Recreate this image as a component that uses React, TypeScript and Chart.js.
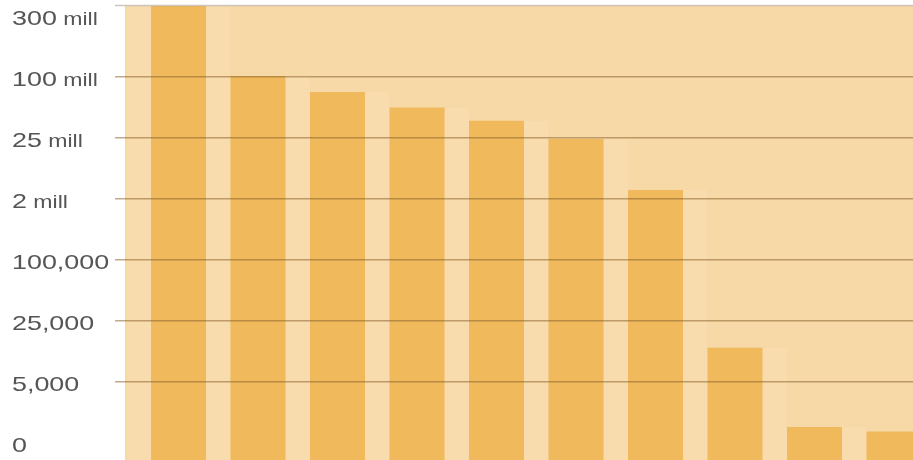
import { useEffect, useRef } from "react";
import { Chart, registerables } from "chart.js";

Chart.register(...registerables);

// Categories (no names are shown in the picture; ranked bars)
const categories = ["#1", "#2", "#3", "#4", "#5", "#6", "#7", "#8", "#9", "#10"];

// Estimated values
const values = [360000000, 102000000, 71000000, 50000000, 37000000, 24000000, 2900000, 12300, 1300, 950];

// Tick values (equally spaced on the axis) and their labels
const tickValues = [0, 5000, 25000, 100000, 2000000, 25000000, 100000000, 300000000];
const tickLabels = ["0", "5,000", "25,000", "100,000", "2 mill", "25 mill", "100 mill", "300 mill"];

const Y_MIN = -0.279;
const Y_MAX = 7.164;
const X_MIN = -0.673;
const X_MAX = 9.239;

const PLOT_BG = "#f6d9a6";
const BAR_COLOR = "#efb95c";
const HALO_COLOR = "#f8dcad";
const GRID_COLOR = "rgba(140, 100, 45, 0.55)";
const TEXT_COLOR = "#555555";

// Piecewise axis transform: equal spacing between the listed tick values
function toAxis(v: number): number {
  if (v <= tickValues[1]) return v / tickValues[1];
  for (let i = 1; i < tickValues.length - 1; i++) {
    const a = tickValues[i];
    const b = tickValues[i + 1];
    if (v < b) return i + Math.log(v / a) / Math.log(b / a);
  }
  const n = tickValues.length - 1;
  const a = tickValues[n - 1];
  const b = tickValues[n];
  return n + Math.log(v / b) / Math.log(b / a);
}

const decorPlugin = {
  id: "decor",
  beforeDraw(chart: any) {
    const { ctx, chartArea } = chart;
    ctx.save();
    ctx.fillStyle = PLOT_BG;
    ctx.fillRect(chartArea.left, chartArea.top, chartArea.right - chartArea.left, chartArea.bottom - chartArea.top);
    ctx.restore();
  },
  afterDraw(chart: any) {
    const { ctx, chartArea } = chart;
    const yScale = chart.scales.y;
    ctx.save();
    // top rule
    ctx.strokeStyle = "rgba(165, 150, 135, 0.55)";
    ctx.lineWidth = 1.5;
    ctx.beginPath();
    ctx.moveTo(chartArea.left - 10, chartArea.top - 0.5);
    ctx.lineTo(chartArea.right, chartArea.top - 0.5);
    ctx.stroke();

    // tick labels
    ctx.fillStyle = TEXT_COLOR;
    ctx.textBaseline = "alphabetic";
    ctx.textAlign = "left";
    const fam = '"Liberation Sans", Arial, sans-serif';
    tickLabels.forEach((lab, i) => {
      const py = yScale.getPixelForValue(i) + 9;
      const parts = lab.split(" ");
      ctx.save();
      ctx.translate(12, py);
      ctx.scale(1.28, 1);
      ctx.font = "21px " + fam;
      ctx.fillText(parts[0], 0, 0);
      if (parts.length > 1) {
        const w = ctx.measureText(parts[0]).width;
        ctx.font = "18px " + fam;
        const sp = ctx.measureText(" ").width;
        ctx.fillText(parts.slice(1).join(" "), w + sp, 0);
      }
      ctx.restore();
    });
    ctx.restore();
  },
};

export default function App() {
  const ref = useRef<HTMLCanvasElement | null>(null);

  useEffect(() => {
    document.body.style.margin = "0";
    const canvas = ref.current;
    if (!canvas) return;
    const points = values.map((v, i) => ({ x: i, y: toAxis(v) }));
    const chart = new Chart(canvas, {
      type: "bar",
      data: {
        labels: categories,
        datasets: [
          {
            label: "values",
            data: points,
            backgroundColor: BAR_COLOR,
            borderWidth: 0,
            base: Y_MIN,
            barPercentage: 1,
            categoryPercentage: 0.692,
            grouped: false,
            order: 0,
          } as any,
          {
            label: "halo",
            data: points,
            backgroundColor: HALO_COLOR,
            borderWidth: 0,
            base: Y_MIN,
            barPercentage: 1,
            categoryPercentage: 1.3,
            grouped: false,
            order: 1,
          } as any,
        ],
      },
      options: {
        animation: false,
        responsive: false,
        devicePixelRatio: 1,
        layout: { padding: { left: 0, top: 6, right: 0, bottom: 0 } },
        plugins: { legend: { display: false }, tooltip: { enabled: false } },
        scales: {
          x: {
            type: "linear",
            min: X_MIN,
            max: X_MAX,
            offset: false,
            display: false,
            grid: { offset: false },
          },
          y: {
            type: "linear",
            min: Y_MIN,
            max: Y_MAX,
            afterBuildTicks: (s: any) => {
              s.ticks = tickValues.map((_, i) => ({ value: i }));
            },
            afterFit: (s: any) => {
              s.width = 125;
            },
            ticks: { display: false },
            border: { display: false },
            grid: {
              z: 1,
              color: (c: any) =>
                c.tick && c.tick.value > 0 && c.tick.value < tickValues.length - 1 ? GRID_COLOR : "rgba(0,0,0,0)",
              lineWidth: 1.5,
              tickLength: 10,
              drawTicks: true,
            },
          },
        },
      } as any,
      plugins: [decorPlugin],
    });
    return () => chart.destroy();
  }, []);

  return <canvas ref={ref} width={913} height={460} style={{ display: "block" }} />;
}
